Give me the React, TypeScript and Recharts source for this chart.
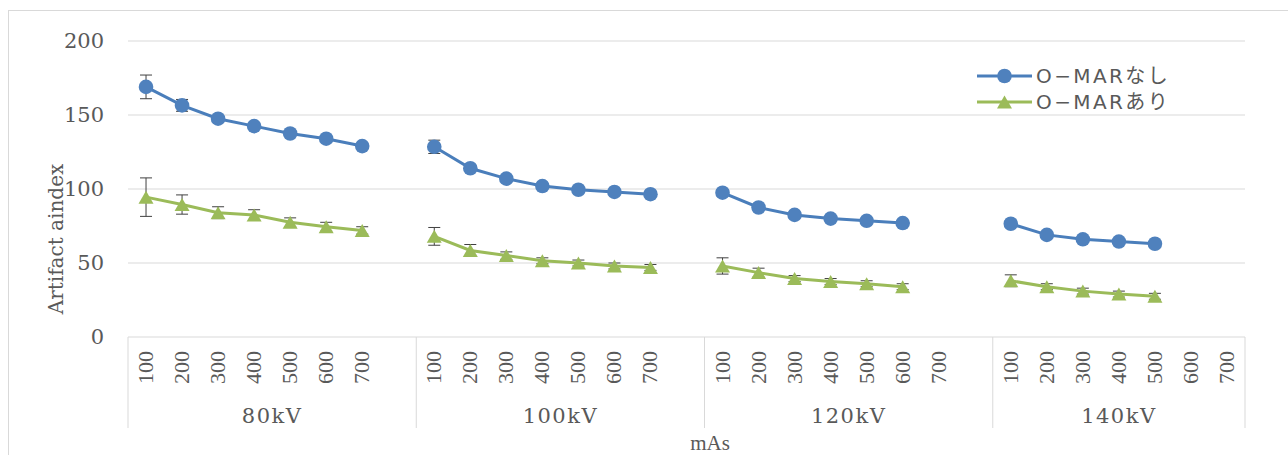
import React from "react";
import { LineChart, Line, XAxis, YAxis, CartesianGrid, ErrorBar, Legend } from "recharts";

const KV_GROUPS = ["80kV", "100kV", "120kV", "140kV"];
const MAS_LABELS = ["100", "200", "300", "400", "500", "600", "700"];

// artifact index per tube voltage, one entry per mAs step (missing steps were not measured)
const NO_MAR = [
  [169, 156.5, 147.5, 142.5, 137.5, 134, 129],
  [128.5, 114, 107, 102, 99.5, 98, 96.5],
  [97.5, 87.5, 82.5, 80, 78.5, 77],
  [76.5, 69, 66, 64.5, 63],
];
const NO_MAR_SD = [
  [8, 4, 1.5, 1.5, 1.5, 1.5, 1.5],
  [4.5, 1.5, 1.5, 1.5, 1.5, 1.5, 1.5],
  [2, 1.5, 1.5, 1.5, 1.5, 1.5],
  [2, 1.5, 1.5, 1.5, 1.5],
];
const WITH_MAR = [
  [94.5, 89.5, 84, 82.5, 77.5, 74.5, 72],
  [68, 58.5, 55, 51.5, 50, 48, 47],
  [48, 43.5, 39.5, 37.5, 36, 34],
  [38, 34, 31, 29, 27.5],
];
const WITH_MAR_SD = [
  [13, 6.5, 4, 3.5, 3, 3, 2.5],
  [6, 4, 2.5, 2, 2, 2, 2],
  [5.5, 3, 2, 2, 2, 2],
  [4, 2, 2, 2, 2],
];

const SERIES_NAMES = ["O−MARなし", "O−MARあり"];
const Y_TICKS = [0, 50, 100, 150, 200];

const BLUE = "#4a7ebb";
const BLUE_FILL = "#4f81bd";
const GREEN = "#9bbb59";
const GRID = "#d9d9d9";
const TEXT = "#595959";

// one row per mAs step, plus an empty slot between voltage groups so the lines break
type Row = {
  key: string;
  mas: string;
  kv: string;
  pos: number;
  groupSize: number;
  noMar: number | null;
  noMarSd: number | null;
  withMar: number | null;
  withMarSd: number | null;
};

const rows: Row[] = [];
KV_GROUPS.forEach((kv, g) => {
  const last = g === KV_GROUPS.length - 1;
  const groupSize = last ? MAS_LABELS.length : MAS_LABELS.length + 1;
  MAS_LABELS.forEach((mas, m) => {
    rows.push({
      key: `${kv}-${mas}`,
      mas,
      kv,
      pos: m,
      groupSize,
      noMar: NO_MAR[g][m] ?? null,
      noMarSd: NO_MAR_SD[g][m] ?? null,
      withMar: WITH_MAR[g][m] ?? null,
      withMarSd: WITH_MAR_SD[g][m] ?? null,
    });
  });
  if (!last) {
    rows.push({
      key: `${kv}-gap`,
      mas: "",
      kv,
      pos: MAS_LABELS.length,
      groupSize,
      noMar: null,
      noMarSd: null,
      withMar: null,
      withMarSd: null,
    });
  }
});
const rowByKey = new Map(rows.map((r) => [r.key, r]));

const CHART_W = 1280;
const CHART_H = 444;
const MARGIN = { top: 30, right: 44, bottom: 0, left: 0 };
const Y_AXIS_W = 119;
const X_AXIS_H = 118;
const BAND = (CHART_W - MARGIN.left - Y_AXIS_W - MARGIN.right) / rows.length;

const AxisTick = (props: any) => {
  const { x, y, payload } = props;
  const row = rowByKey.get(payload.value);
  if (!row) return null;
  const isLastRow = row.key === rows[rows.length - 1].key;
  const groupLeft = x - BAND / 2 - row.pos * BAND;
  return (
    <g>
      {row.mas && (
        <text
          transform={`translate(${x + 7},${y + 14}) rotate(-90)`}
          textAnchor="end"
          fontFamily="'Liberation Serif', serif"
          fontSize={22}
          fill={TEXT}
        >
          {row.mas}
        </text>
      )}
      {row.pos === 0 && (
        <>
          <line x1={x - BAND / 2} x2={x - BAND / 2} y1={y} y2={y + 91} stroke={GRID} />
          <text
            x={groupLeft + (row.groupSize * BAND) / 2}
            y={y + 86}
            textAnchor="middle"
            fontFamily="'DejaVu Serif', serif"
            fontSize={21}
            letterSpacing={1.5}
            fill={TEXT}
          >
            {row.kv}
          </text>
        </>
      )}
      {isLastRow && <line x1={x + BAND / 2} x2={x + BAND / 2} y1={y} y2={y + 91} stroke={GRID} />}
    </g>
  );
};

const CircleDot = (props: any) => {
  const { cx, cy, index } = props;
  if (cx == null || cy == null) return <g key={`c-${index}`} />;
  return <circle key={`c-${index}`} cx={cx} cy={cy} r={7.3} fill={BLUE_FILL} />;
};

const TriangleDot = (props: any) => {
  const { cx, cy, index } = props;
  if (cx == null || cy == null) return <g key={`t-${index}`} />;
  const pts = `${cx},${cy - 6.5} ${cx - 7.5},${cy + 6.5} ${cx + 7.5},${cy + 6.5}`;
  return <polygon key={`t-${index}`} points={pts} fill={GREEN} />;
};

const YTitle = () => (
  <text
    transform="translate(54,228) rotate(-90)"
    textAnchor="middle"
    fontFamily="'DejaVu Serif', serif"
    fontSize={20}
    fill={TEXT}
  >
    Artifact aindex
  </text>
);

const XTitle = () => (
  <text x={701} y={439} textAnchor="middle" fontFamily="'Liberation Serif', serif" fontSize={21} fill={TEXT}>
    mAs
  </text>
);

const LEGEND_FONT = "'DejaVu Sans', 'Noto Sans CJK JP', sans-serif";

const LegendBox = () => (
  <svg width={230} height={60} style={{ display: "block" }}>
    <line x1={8} x2={63} y1={15} y2={15} stroke={BLUE} strokeWidth={3} />
    <circle cx={35.5} cy={15} r={7.3} fill={BLUE_FILL} />
    <text x={67} y={15} dy="0.36em" fontFamily={LEGEND_FONT} fontSize={20} letterSpacing={2.4} fill={TEXT}>
      {SERIES_NAMES[0]}
    </text>
    <line x1={8} x2={63} y1={41} y2={41} stroke={GREEN} strokeWidth={3} />
    <polygon points="35.5,34.5 28,47.5 43,47.5" fill={GREEN} />
    <text x={67} y={41} dy="0.36em" fontFamily={LEGEND_FONT} fontSize={20} letterSpacing={2.4} fill={TEXT}>
      {SERIES_NAMES[1]}
    </text>
  </svg>
);

export default function App() {
  return (
    <div style={{ position: "absolute", left: 0, top: 0, width: 1288, height: 455, overflow: "hidden", background: "#fff" }}>
      <div
        style={{
          position: "absolute",
          left: 8,
          top: 10,
          width: 1300,
          height: 470,
          border: `1px solid ${GRID}`,
          boxSizing: "border-box",
        }}
      >
        <LineChart width={CHART_W} height={CHART_H} data={rows} margin={MARGIN}>
          <CartesianGrid horizontal vertical={false} stroke={GRID} strokeWidth={1} />
          <XAxis
            dataKey="key"
            type="category"
            scale="band"
            interval={0}
            height={X_AXIS_H}
            axisLine={false}
            tickLine={false}
            tickSize={0}
            tickMargin={0}
            tick={<AxisTick />}
            label={XTitle}
          />
          <YAxis
            domain={[0, 200]}
            ticks={Y_TICKS}
            width={Y_AXIS_W}
            axisLine={false}
            tickLine={false}
            tickSize={0}
            tickMargin={24}
            tick={{ fontFamily: "'DejaVu Serif', serif", fontSize: 21, fill: TEXT }}
            label={YTitle}
          />
          <Legend
            layout="horizontal"
            verticalAlign="middle"
            align="center"
            wrapperStyle={{ left: 960, top: 50, width: 230, height: 60 }}
            content={LegendBox}
          />
          <Line
            dataKey="noMar"
            name={SERIES_NAMES[0]}
            type="linear"
            stroke={BLUE}
            strokeWidth={3}
            dot={CircleDot}
            activeDot={false}
            isAnimationActive={false}
          >
            <ErrorBar dataKey="noMarSd" direction="y" width={6} stroke="#404040" strokeWidth={1} isAnimationActive={false} />
          </Line>
          <Line
            dataKey="withMar"
            name={SERIES_NAMES[1]}
            type="linear"
            stroke={GREEN}
            strokeWidth={3}
            dot={TriangleDot}
            activeDot={false}
            isAnimationActive={false}
          >
            <ErrorBar dataKey="withMarSd" direction="y" width={6} stroke="#404040" strokeWidth={1} isAnimationActive={false} />
          </Line>
        </LineChart>
      </div>
    </div>
  );
}
